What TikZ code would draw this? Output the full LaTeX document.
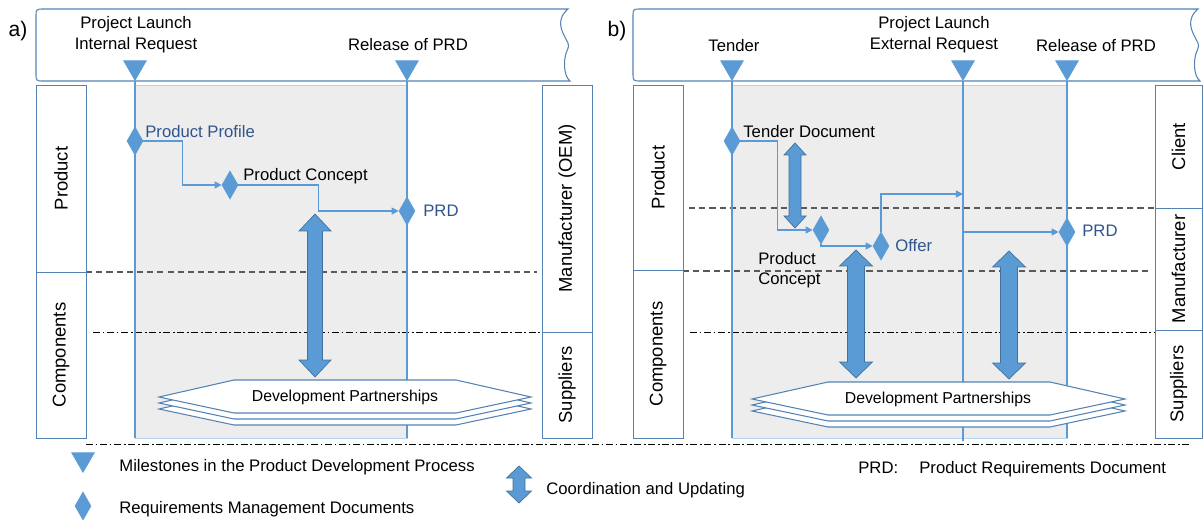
\documentclass[tikz,border=0pt]{standalone}
\usepackage{fontspec}
\setmainfont{Liberation Sans}
\usepackage{xcolor}
\usetikzlibrary{positioning}
\usetikzlibrary{shapes.geometric}
\usetikzlibrary{arrows.meta}

\definecolor{msblue}{RGB}{91,155,213}
\definecolor{msedge}{RGB}{65,113,156}
\definecolor{boxedge}{RGB}{84,130,180}
\definecolor{doctext}{RGB}{47,85,140}
\definecolor{phase}{RGB}{237,237,237}

\tikzset{
  milestone/.style={regular polygon, regular polygon sides=3, shape border rotate=180,
    fill=msblue, draw=msblue, inner sep=0pt, minimum size=0.52cm},
  reqdoc/.style={diamond, fill=msblue, draw=msblue, inner sep=0pt,
    minimum width=0.32cm, minimum height=0.56cm},
  mline/.style={msblue, line width=1.1pt},
  conn/.style={msblue, line width=0.6pt, -{Triangle[length=4pt,width=4pt]}},
  sidebox/.style={draw=boxedge, line width=0.5pt, fill=white, rotate=90,
    minimum height=1cm, inner sep=0pt, font=\fontsize{10.5}{12}\selectfont},
  lbl/.style={font=\fontsize{9.5}{12}\selectfont, inner sep=0pt, align=center},
  bluelbl/.style={lbl, text=doctext},
  panel/.style={font=\fontsize{12}{14}\selectfont, inner sep=0pt},
  bannerline/.style={draw=boxedge, line width=0.6pt, fill=white},
  hexline/.style={draw=boxedge, line width=0.6pt, fill=white},
  phasebox/.style={fill=phase, draw=msblue!45, line width=0.4pt},
  lanesep/.style={draw=black!65, line width=0.6pt, dash pattern=on 3.5pt off 2.3pt},
  levelsep/.style={draw=black, line width=0.5pt, dash pattern=on 4pt off 1.5pt on 1pt off 1.5pt},
  updown/.style={fill=msblue, draw=msedge, line width=0.4pt}
}

% banner with wavy right end
\newcommand{\tapebar}[2]{%
  \draw[bannerline] (#2,9) -- (#1+8,9) .. controls (#1,9) .. (#1,17) -- (#1,73)
    .. controls (#1,81) .. (#1+8,81) -- (#2+2,81)
    .. controls (#2-4,76) and (#2-4,64) .. (#2-3,58)
    .. controls (#2-2,50) and (#2+2,48) .. (#2,43)
    .. controls (#2-3,37) and (#2-9,28) .. (#2-7,20)
    .. controls (#2-6,14) and (#2-2,11) .. (#2,9) -- cycle;}

% stacked hexagon
\newcommand{\devpartner}[5]{%
  \foreach \d in {12,6,0}{%
    \draw[hexline] (#1,#5+17+\d) -- (#2,#5+\d) -- (#3,#5+\d) -- (#4,#5+17+\d)
      -- (#3,#5+33+\d) -- (#2,#5+33+\d) -- cycle;}}

% double arrow: x, top, bottom, half shaft, half head, head length
\newcommand{\updown}[6]{%
  \draw[updown] (#1,#2) -- (#1+#5,#2+#6) -- (#1+#4,#2+#6) -- (#1+#4,#3-#6)
    -- (#1+#5,#3-#6) -- (#1,#3) -- (#1-#5,#3-#6) -- (#1-#4,#3-#6)
    -- (#1-#4,#2+#6) -- (#1-#5,#2+#6) -- cycle;}

\begin{document}
\begin{tikzpicture}[x=0.02cm, y=-0.02cm]
\useasboundingbox (0,0) rectangle (1204,520);

\begin{scope}
{
\fill[phasebox] (135,85) rectangle (407,438);

\draw[lanesep] (86,272) -- (537,272);
\draw[levelsep] (93,332) -- (542,332);

\tapebar{36}{568}
\node[panel] (pa) at (18,31) {a)};

\node[milestone, anchor=south] (msa1) at (135,81) {};
\node[milestone, anchor=south] (msa2) at (407,81) {};
\draw[mline] (msa1.south) -- (135,438);
\draw[mline] (msa2.south) -- (407,438);

\node[lbl] (launcha) at (136,35) {Project Launch\\Internal Request};
\node[lbl] (releasea) at (408,45) {Release of PRD};

\node[sidebox, minimum width=3.74cm] (proda) at (61,178.5) {Product};
\node[sidebox, minimum width=3.32cm] (compa) at (61,355) {Components};
\node[sidebox, minimum width=4.94cm] (oema) at (567,208.5) {Manufacturer (OEM)};
\node[sidebox, minimum width=2.12cm] (suppa) at (567,385) {Suppliers};

% documents
\node[reqdoc] (ppa) at (135,141) {};
\node[reqdoc] (pca) at (230,185) {};
\node[reqdoc] (prda) at (407,211) {};
\node[bluelbl, anchor=west] (ppatext) at (145,132) {Product Profile};
\node[lbl, anchor=west] (pcatext) at (243,176) {Product Concept};
\node[bluelbl, anchor=west] (prdatext) at (423,211) {PRD};
\draw[conn] (ppa.east) -- ++(39,0) |- (pca.west);
\draw[conn] (pca.east) -- ++(80,0) |- (prda.west);

\updown{315}{214}{377}{7.5}{16}{17}

\devpartner{159}{234}{456}{531}{380}
\node[lbl, font=\fontsize{9}{11}\selectfont] (dpa) at (345,397) {Development Partnerships};
}
\end{scope}

\begin{scope}
{
\fill[phasebox] (732,85) rectangle (1067,438);

\draw[lanesep] (689,208) -- (1200,208);
\draw[lanesep] (683,271) -- (1148,271);
\draw[levelsep] (690,332) -- (1155,332);

\tapebar{633}{1198}
\node[panel] (pb) at (617,31) {b)};

\node[milestone, anchor=south] (msb1) at (732,81) {};
\node[milestone, anchor=south] (msb2) at (963,81) {};
\node[milestone, anchor=south] (msb3) at (1067,81) {};
\draw[mline] (msb1.south) -- (732,438);
\draw[mline] (msb2.south) -- (963,441);
\draw[mline] (msb3.south) -- (1067,438);

\node[lbl] (tenderb) at (734,46) {Tender};
\node[lbl] (launchb) at (934,35) {Project Launch\\External Request};
\node[lbl] (releaseb) at (1096,46) {Release of PRD};

\node[sidebox, minimum width=3.7cm] (prodb) at (658,177.5) {Product};
\node[sidebox, minimum width=3.36cm] (compb) at (658,354) {Components};
\node[sidebox, minimum width=2.46cm, minimum height=0.94cm] (clientb) at (1178.5,146.5) {Client};
\node[sidebox, minimum width=2.44cm, minimum height=0.94cm] (oemb) at (1178.5,269) {Manufacturer};
\node[sidebox, minimum width=2.16cm, minimum height=0.94cm] (suppb) at (1178.5,384) {Suppliers};

% documents
\node[reqdoc] (tdb) at (732,141) {};
\node[reqdoc] (pcb) at (821,230) {};
\node[reqdoc] (offerb) at (881,246) {};
\node[reqdoc] (prdb) at (1067,232) {};
\node[lbl, anchor=west] (tdbtext) at (743,132) {Tender Document};
\node[lbl, anchor=west, align=left, font=\fontsize{9.5}{11.4}\selectfont] (pcbtext) at (758,270) {Product\\Concept};
\node[bluelbl, anchor=west] (offerbtext) at (895,246) {Offer};
\node[bluelbl, anchor=west] (prdbtext) at (1082,231) {PRD};
\coordinate (extin) at (963,194);
\coordinate (extout) at (963,232);
\draw[conn] (tdb.east) -- ++(37,0) |- (pcb.west);
\draw[conn] (pcb.south) |- (offerb.west);
\draw[conn] (offerb.north) |- (extin);
\draw[conn] (extout) -- (prdb.west);

\updown{795}{143}{228}{6}{11}{12}
\updown{856}{250}{378}{8.5}{16.5}{16}
\updown{1009}{251}{379}{8.5}{16.5}{16}

\devpartner{752}{828}{1050}{1125}{382}
\node[lbl, font=\fontsize{9}{11}\selectfont] (dpb) at (938,399) {Development Partnerships};
}
\end{scope}

\draw[levelsep] (86,444) -- (1190,444);

% legend
\node[milestone, anchor=south] (lgms) at (83,473) {};
\node[lbl, anchor=west] (lgmstext) at (119,467) {Milestones in the Product Development Process};
\node[reqdoc] (lgrd) at (83,506) {};
\node[lbl, anchor=west] (lgrdtext) at (119,509) {Requirements Management Documents};
\updown{519}{466}{503}{6}{12.5}{12}
\node[lbl, anchor=west] (lgcutext) at (546,490) {Coordination and Updating};
\node[lbl, anchor=west] (lgprd) at (858,469) {PRD:\hspace{12pt}Product Requirements Document};

\end{tikzpicture}
\end{document}
